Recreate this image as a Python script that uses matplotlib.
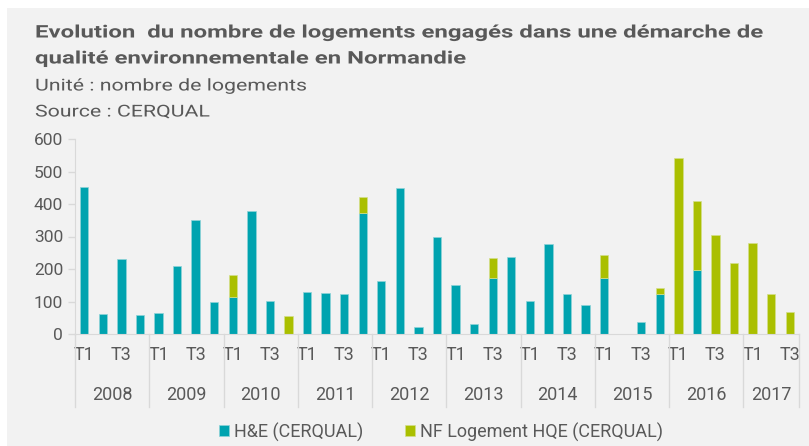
import numpy as np
import matplotlib.pyplot as plt
from matplotlib.patches import Rectangle
from matplotlib.patheffects import AbstractPathEffect
from matplotlib.transforms import Affine2D, blended_transform_factory

plt.rcParams["font.family"] = ["Roboto", "DejaVu Sans"]

years = ["2008", "2009", "2010", "2011", "2012", "2013", "2014", "2015", "2016", "2017"]
quarters_per_year = [4, 4, 4, 4, 4, 4, 4, 4, 4, 3]
quarters = ["T1", "T2", "T3", "T4"]

# H&E (CERQUAL)
he = [452, 63, 230, 57,
      64, 208, 351, 99,
      115, 379, 101, 0,
      128, 126, 124, 372,
      163, 449, 21, 299,
      150, 31, 173, 238,
      103, 278, 124, 88,
      173, 0, 36, 124,
      0, 196, 0, 0,
      0, 0, 0]
# NF Logement HQE (CERQUAL)
nf = [0, 0, 0, 0,
      0, 0, 0, 0,
      66, 0, 0, 55,
      0, 0, 0, 51,
      0, 0, 0, 0,
      0, 0, 60, 0,
      0, 0, 0, 0,
      71, 0, 0, 19,
      543, 212, 304, 218,
      281, 123, 69]

teal = "#00a3af"
green = "#aabf00"
txt = "#595959"
bg = "#f2f2f2"


class Stretch(AbstractPathEffect):
    # widen glyphs horizontally around the text's left edge
    def __init__(self, sx):
        super().__init__()
        self.sx = sx

    def draw_path(self, renderer, gc, tpath, affine, rgbFace=None):
        ox = affine.transform((0, 0))[0]
        a = affine + Affine2D().translate(-ox, 0).scale(self.sx, 1).translate(ox, 0)
        renderer.draw_path(gc, tpath, a, rgbFace)


fig = plt.figure(figsize=(8.09, 4.46), dpi=100, facecolor="white")
fig.patches.append(Rectangle((7 / 809, 0), 1, 1 - 8 / 446, transform=fig.transFigure,
                             facecolor=bg, edgecolor="none", zorder=-10))

ax = fig.add_axes([75 / 809, (446 - 334) / 446, (799 - 75) / 809, (334 - 139) / 446])
ax.set_facecolor(bg)

x = np.arange(len(he))
he = np.array(he)
nf = np.array(nf)
m1 = he > 0
m2 = nf > 0
ax.bar(x[m1], he[m1], width=0.45, color=teal, edgecolor="#8fd3d8", linewidth=0.5,
       label="H&E (CERQUAL)")
ax.bar(x[m2], nf[m2], width=0.45, bottom=he[m2], color=green, edgecolor="#d3df8c",
       linewidth=0.5, label="NF Logement HQE (CERQUAL)")

ax.set_xlim(-0.5, len(he) - 0.5)
ax.set_ylim(0, 600)
ax.set_yticks(range(0, 601, 100))
ax.tick_params(axis="y", colors="#d9d9d9", labelcolor=txt, labelsize=12.5, length=5, width=1)

for s in ["top", "right"]:
    ax.spines[s].set_visible(False)
ax.spines["left"].set_color("#d9d9d9")
ax.spines["bottom"].set_color("#d9d9d9")

# quarter labels, every other one shown
labels = []
for n in quarters_per_year:
    labels += quarters[:n]
ax.set_xticks(x[::2])
ax.set_xticklabels([labels[i] for i in x[::2]])
ax.tick_params(axis="x", length=0, labelsize=13, labelcolor=txt, pad=9)

# year labels and separators
trans = blended_transform_factory(ax.transData, ax.transAxes)
edges = np.concatenate([[0], np.cumsum(quarters_per_year)]) - 0.5
for i, yr in enumerate(years):
    mid = (edges[i] + edges[i + 1]) / 2
    ax.text(mid, -0.315, yr, transform=trans, ha="center", va="center", fontsize=13, color=txt)
for e in edges:
    ax.plot([e, e], [0, -0.375], transform=trans, color="#d9d9d9", lw=1, clip_on=False)

fig.text(35 / 809, 1 - 33 / 446, "Evolution  du nombre de logements engagés dans une démarche de",
         fontsize=12.5, fontweight="bold", color=txt, va="center", path_effects=[Stretch(1.38)])
fig.text(35 / 809, 1 - 59 / 446, "qualité environnementale en Normandie",
         fontsize=12.5, fontweight="bold", color=txt, va="center", path_effects=[Stretch(1.38)])
fig.text(35 / 809, 1 - 86 / 446, "Unité : nombre de logements", fontsize=11.8, color=txt,
         va="center", path_effects=[Stretch(1.3)])
fig.text(35 / 809, 1 - 112 / 446, "Source : CERQUAL", fontsize=11.8, color=txt,
         va="center", path_effects=[Stretch(1.3)])

fig.legend(loc="center", bbox_to_anchor=(441 / 809, 14 / 446), ncol=2, frameon=False,
           fontsize=13, labelcolor=txt, handlelength=0.55, handleheight=0.55,
           handletextpad=0.3, columnspacing=2.3)

fig.savefig("out.png", dpi=100, facecolor=fig.get_facecolor())
